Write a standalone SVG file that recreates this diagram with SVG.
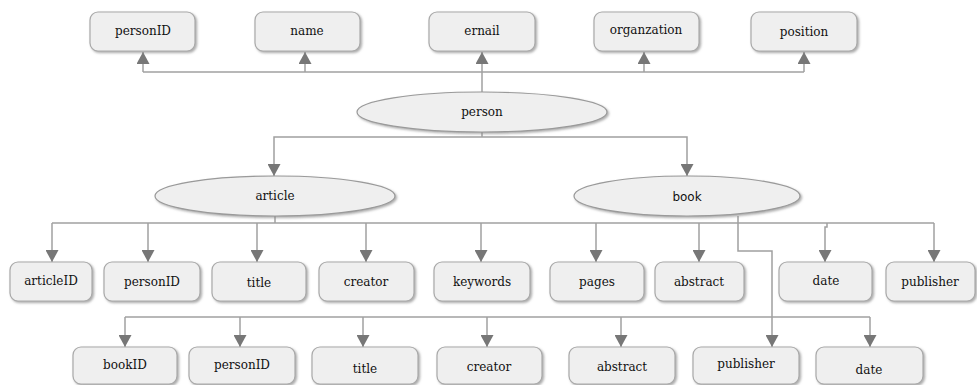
<svg xmlns="http://www.w3.org/2000/svg" width="977" height="385" viewBox="0 0 977 385">
<style>
.bx{fill:#efefef;stroke:#a9a9a9;stroke-width:1.2;filter:url(#sh)}
.el{fill:#efefef;stroke:#9a9a9a;stroke-width:1.2;filter:url(#sh)}
.t{font-family:'DejaVu Serif','Liberation Serif',serif;font-size:12px;fill:#111;text-anchor:middle}
.s{font-family:'DejaVu Sans',Verdana,sans-serif;font-size:12px;fill:#111;text-anchor:middle}
.c{fill:none;stroke:#a0a0a0;stroke-width:1.5}
.a{fill:none;stroke:#a0a0a0;stroke-width:1.5;marker-end:url(#ah)}
</style>
<defs>
<filter id="sh" x="-10%" y="-20%" width="130%" height="150%">
<feDropShadow dx="1.5" dy="1.5" stdDeviation="1" flood-color="#888" flood-opacity="0.7"/>
</filter>
<marker id="ah" markerUnits="userSpaceOnUse" markerWidth="13" markerHeight="13" viewBox="0 0 12 12" refX="11" refY="6" orient="auto">
<path d="M0,0 L11,6 L0,12 Z" fill="#777"/>
</marker>
</defs>
<rect width="977" height="385" fill="#fff"/>
<g id="connectors">
<path class="c" d="M143,72 H804"/>
<path class="a" d="M143,72 V52"/>
<path class="a" d="M305,72 V52"/>
<path class="a" d="M482,92 V52"/>
<path class="a" d="M644,72 V52"/>
<path class="a" d="M804,72 V52"/>
<path class="c" d="M482,132 V137"/>
<path class="a" d="M482,137 H274 V176"/>
<path class="a" d="M482,137 H687 V176"/>
<path class="c" d="M275,216 V223"/>
<path class="c" d="M52,223 H934"/>
<path class="a" d="M52,223 V262"/>
<path class="a" d="M148,223 V262"/>
<path class="a" d="M257,223 V262"/>
<path class="a" d="M366,223 V262"/>
<path class="a" d="M481,223 V262"/>
<path class="a" d="M596,223 V262"/>
<path class="a" d="M699,223 V262"/>
<path class="a" d="M827,223 V227 H825 V262"/>
<path class="a" d="M934,223 V262"/>
<path class="a" d="M738,216 V251 H772 V347"/>
<path class="c" d="M125,317 H870"/>
<path class="a" d="M125,317 V347"/>
<path class="a" d="M240,317 V347"/>
<path class="a" d="M363,317 V347"/>
<path class="a" d="M487,317 V347"/>
<path class="a" d="M621,317 V347"/>
<path class="a" d="M870,317 V347"/>
</g>
<g id="n-personID"><rect class="bx" x="90" y="12" width="105" height="39" rx="8"/><text class="t" x="143" y="35">personID</text></g>
<g id="n-name"><rect class="bx" x="255" y="12" width="105" height="39" rx="8"/><text class="t" x="307" y="35">name</text></g>
<g id="n-email"><rect class="bx" x="429" y="12" width="106" height="39" rx="8"/><text class="t" x="482" y="35">ernail</text></g>
<g id="n-organzation"><rect class="bx" x="594" y="12" width="105" height="39" rx="8"/><text class="t" x="646" y="34">organzation</text></g>
<g id="n-position"><rect class="bx" x="751" y="12" width="106" height="39" rx="8"/><text class="t" x="804" y="36">position</text></g>
<g id="n-person"><ellipse class="el" cx="482" cy="112" rx="125" ry="20"/><text class="t" x="482" y="116">person</text></g>
<g id="n-article"><ellipse class="el" cx="275" cy="196" rx="120" ry="20"/><text class="t" x="275" y="200">article</text></g>
<g id="n-book"><ellipse class="el" cx="687" cy="196" rx="113" ry="20"/><text class="s" x="687" y="201">book</text></g>
<g id="n-articleID"><rect class="bx" x="10" y="262" width="82" height="39" rx="8"/><text class="t" x="51" y="285">articleID</text></g>
<g id="n-a-personID"><rect class="bx" x="104" y="262" width="96" height="39" rx="8"/><text class="t" x="152" y="286">personID</text></g>
<g id="n-a-title"><rect class="bx" x="212" y="262" width="94" height="39" rx="8"/><text class="t" x="259" y="287">title</text></g>
<g id="n-a-creator"><rect class="bx" x="319" y="262" width="95" height="39" rx="8"/><text class="t" x="366" y="286">creator</text></g>
<g id="n-keywords"><rect class="bx" x="434" y="262" width="96" height="39" rx="8"/><text class="t" x="482" y="286">keywords</text></g>
<g id="n-pages"><rect class="bx" x="550" y="262" width="94" height="39" rx="8"/><text class="t" x="597" y="286">pages</text></g>
<g id="n-a-abstract"><rect class="bx" x="655" y="262" width="89" height="39" rx="8"/><text class="t" x="699" y="286">abstract</text></g>
<g id="n-a-date"><rect class="bx" x="779" y="262" width="93" height="39" rx="8"/><text class="t" x="826" y="285">date</text></g>
<g id="n-a-publisher"><rect class="bx" x="886" y="262" width="89" height="39" rx="8"/><text class="t" x="930" y="286">publisher</text></g>
<g id="n-bookID"><rect class="bx" x="73" y="347" width="104" height="37" rx="8"/><text class="t" x="125" y="369">bookID</text></g>
<g id="n-b-personID"><rect class="bx" x="189" y="347" width="106" height="37" rx="8"/><text class="t" x="242" y="369">personID</text></g>
<g id="n-b-title"><rect class="bx" x="312" y="347" width="106" height="37" rx="8"/><text class="t" x="365" y="373">title</text></g>
<g id="n-b-creator"><rect class="bx" x="437" y="347" width="105" height="37" rx="8"/><text class="t" x="489" y="371">creator</text></g>
<g id="n-b-abstract"><rect class="bx" x="569" y="347" width="106" height="37" rx="8"/><text class="t" x="622" y="371">abstract</text></g>
<g id="n-b-publisher"><rect class="bx" x="693" y="347" width="106" height="37" rx="8"/><text class="t" x="746" y="368">publisher</text></g>
<g id="n-b-date"><rect class="bx" x="816" y="347" width="107" height="37" rx="8"/><text class="t" x="869" y="374">date</text></g>
</svg>
